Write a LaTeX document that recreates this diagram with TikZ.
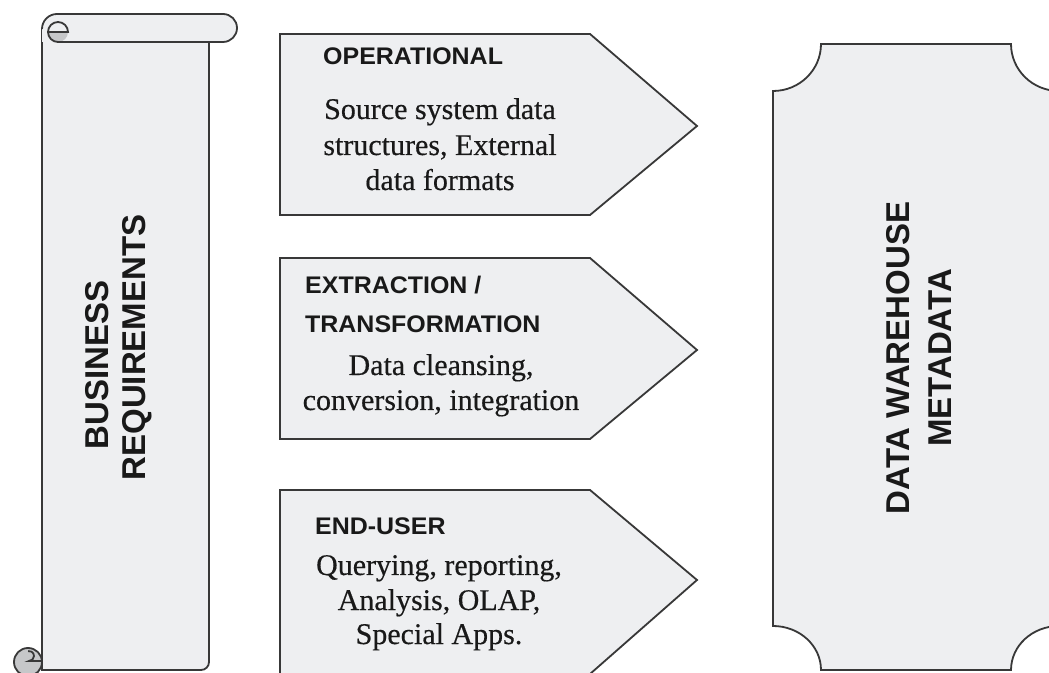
\documentclass[tikz,border=0pt]{standalone}
\usepackage{fontspec}
\setmainfont{Liberation Serif}
\setsansfont{Liberation Sans}
\newfontfamily\hfont{Liberation Sans}
\newfontfamily\rfont[FakeBold=0.4]{Liberation Serif}
\usepackage{graphicx}
\definecolor{paper}{HTML}{EEEFF1}
\definecolor{ink}{HTML}{383838}
\definecolor{curlgray}{HTML}{C6C7C9}
\newcommand\widen[1]{\scalebox{1.04}[1]{#1}}
\begin{document}
\begin{tikzpicture}[x=1pt,y=1pt,
  outl/.style={draw=ink, line width=1.8pt, line join=miter},
  shapefill/.style={outl, fill=paper},
  hd/.style={anchor=base west, inner sep=0pt, text=black!90, font=\hfont\bfseries\fontsize{24}{30}\selectfont},
  bd/.style={anchor=base, inner sep=0pt, text=black!90, font=\rfont\fontsize{30}{36}\selectfont},
  rot/.style={rotate=90, inner sep=0pt, text=black!90, font=\hfont\bfseries\fontsize{33}{40}\selectfont}]
\useasboundingbox[fill=white] (0,0) rectangle (1049,672);

% ---- scroll: business requirements ----
\draw[shapefill] (42,643) -- (42,2) -- (201,2) arc[start angle=-90,end angle=0,radius=8] -- (209,630);
\fill[paper] (42,643) arc[start angle=180,end angle=90,radius=15] -- (223,658)
  arc[start angle=90,end angle=-90,radius=14] -- (42,630) -- cycle;
\fill[curlgray] (48,640) arc[start angle=180,end angle=360,radius=10] -- cycle;
\draw[outl] (42,643) arc[start angle=180,end angle=90,radius=15] -- (223,658)
  arc[start angle=90,end angle=-90,radius=14] -- (58,630)
  arc[start angle=-90,end angle=-360,radius=10] -- (48,640);
\draw[outl, fill=curlgray] (28,10) circle[radius=14];
\draw[outl] (42,11) -- (29,11) arc[start angle=-90,end angle=100,radius=5];

\node[rot] (bus) at (97.5,307) {BUSINESS};
\node[rot] (req) at (137.5,324.5) {REQUIREMENTS};

% ---- pentagon 1 ----
\draw[shapefill] (280,638) -- (590,638) -- (697,546) -- (590,457) -- (280,457) -- cycle;
\node[hd] (op) at (323,607) {\widen{OPERATIONAL}};
\node[bd] (op1) at (440,553) {Source system data};
\node[bd] (op2) at (440,517) {structures, External};
\node[bd] (op3) at (440,482) {data formats};

% ---- pentagon 2 ----
\draw[shapefill] (280,414) -- (590,414) -- (697,322) -- (590,233) -- (280,233) -- cycle;
\node[hd] (ex) at (305,378) {\widen{EXTRACTION /}};
\node[hd] (tr) at (305,339) {\widen{TRANSFORMATION}};
\node[bd] (ex1) at (441,297) {Data cleansing,};
\node[bd] (ex2) at (441,262) {conversion, integration};

% ---- pentagon 3 ----
\draw[shapefill] (280,182) -- (590,182) -- (697,92) -- (590,-2) -- (280,-2) -- cycle;
\node[hd] (eu) at (315,137) {\widen{END-USER}};
\node[bd] (eu1) at (439,97) {Querying, reporting,};
\node[bd] (eu2) at (439,62) {Analysis, OLAP,};
\node[bd] (eu3) at (439,28) {Special Apps.};

% ---- metadata shape ----
\draw[shapefill] (821,628) -- (1011,628)
  arc[start angle=180,end angle=270,x radius=48,y radius=47] -- (1059,46)
  arc[start angle=90,end angle=180,x radius=48,y radius=44] -- (821,2)
  arc[start angle=0,end angle=90,x radius=48,y radius=44] -- (773,581)
  arc[start angle=-90,end angle=0,x radius=48,y radius=47] -- cycle;
\node[rot] (dw) at (898.5,314) {DATA WAREHOUSE};
\node[rot] (md) at (940,314) {METADATA};
\end{tikzpicture}
\end{document}
